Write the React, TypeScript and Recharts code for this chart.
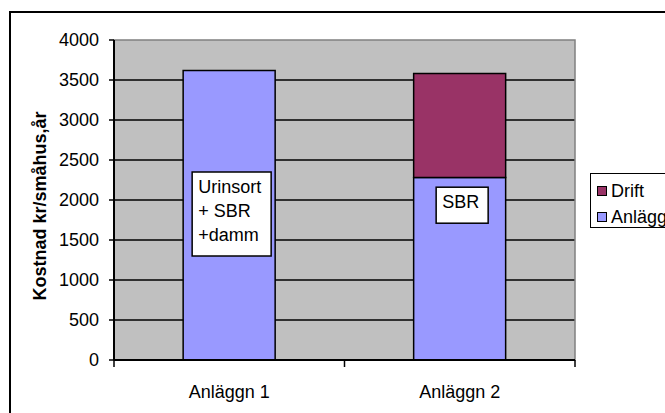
import React from 'react'
import { BarChart, Bar, XAxis, YAxis, CartesianGrid, LabelList, ReferenceArea } from 'recharts'

const categories = ['Anläggn 1', 'Anläggn 2']
const anlaggn = [3620, 2280]
const drift = [null, 1300]
const yTicks = [0, 500, 1000, 1500, 2000, 2500, 3000, 3500, 4000]
const notes = [['Urinsort', '+ SBR', '+damm'], ['SBR']]
const noteTop = [2350, 2160]

const series = [
  { key: 'Anläggn', values: anlaggn, color: '#9999FF' },
  { key: 'Drift', values: drift, color: '#993366' },
]

const W = 665, H = 413
const M = { top: 40, right: 90, left: 0, bottom: 23 }
const Y_W = 114, X_H = 30
const BAND = (W - M.left - M.right - Y_W) / categories.length
const NOTE_W = [79, 52]
const FONT = '"Liberation Sans", Arial, sans-serif'

const data = categories.map((c, i) => {
  const row: any = { name: c }
  for (const s of series) row[s.key] = s.values[i]
  return row
})

function XTick(p: any) {
  const { x, y, payload, index } = p
  const half = BAND / 2
  return (
    <g>
      <line x1={x - half} x2={x - half} y1={y} y2={y + 7} stroke="#000" strokeWidth={1.5} />
      {index === categories.length - 1 && (
        <line x1={x + half} x2={x + half} y1={y} y2={y + 7} stroke="#000" strokeWidth={1.5} />
      )}
      <text x={x} y={y + 38} textAnchor="middle" fontSize={18} fontFamily={FONT} fill="#000">{payload.value}</text>
    </g>
  )
}

function Note(p: any) {
  const { x, y, width, height, index } = p
  const lines = notes[index]
  if (!lines) return null
  const zero = y + height
  const top = zero - noteTop[index] * (height / anlaggn[index])
  const w = NOTE_W[index]
  const h = lines.length * 24 + 12
  const left = x + width / 2 + 2.5 - w / 2
  return (
    <g>
      <rect x={left} y={top} width={w} height={h} fill="#fff" stroke="#000" strokeWidth={1.5} />
      {lines.map((l, i) => (
        <text key={i} x={left + 6} y={top + 21 + i * 24} fontSize={18} fontFamily={FONT} fill="#000">{l}</text>
      ))}
    </g>
  )
}

export default function App() {
  return (
    <div style={{ position: 'fixed', left: 0, top: 0, width: W, height: H, overflow: 'hidden', background: '#fff', fontFamily: FONT }}>
      <div style={{ position: 'absolute', left: 9, top: 11, width: 720, height: 480, border: '2px solid #000', boxSizing: 'border-box' }} />
      <BarChart width={W} height={H} data={data} margin={M} barCategoryGap="30%">
        <CartesianGrid vertical={false} fill="#C0C0C0" stroke="#000" strokeWidth={1.5}
          horizontalValues={yTicks.filter(v => v > 0 && v < 4000)} />
        <ReferenceArea y1={0} y2={4000} fill="none" stroke="#808080" strokeWidth={1.5} ifOverflow="extendDomain" />
        <XAxis dataKey="name" height={X_H} tickLine={false} tickSize={0} tickMargin={0} tick={<XTick />}
          axisLine={{ stroke: '#000', strokeWidth: 2 }} interval={0} />
        <YAxis width={Y_W} domain={[0, 4000]} ticks={yTicks} tickSize={5} tickMargin={10}
          tick={{ fill: '#000', fontSize: 18, fontFamily: FONT }}
          tickLine={{ stroke: '#000', strokeWidth: 1.5 }} axisLine={{ stroke: '#000', strokeWidth: 2 }}
          label={{
            content: () => (
              <text x={46} y={206} transform="rotate(-90, 46, 206)" textAnchor="middle" fontSize={18}
                fontWeight="bold" fontFamily={FONT} fill="#000">Kostnad kr/småhus,år</text>
            ),
          }} />
        {series.map(s => (
          <Bar key={s.key} dataKey={s.key} stackId="a" fill={s.color} stroke="#000" strokeWidth={1.5} isAnimationActive={false}>
            {s.key === 'Anläggn' && <LabelList dataKey={s.key} content={<Note />} />}
          </Bar>
        ))}
      </BarChart>
      <div style={{ position: 'absolute', left: 590, top: 173, width: 120, height: 55, border: '1.5px solid #000', boxSizing: 'border-box', background: '#fff' }}>
        {series.slice().reverse().map((s, i) => (
          <div key={s.key} style={{ position: 'absolute', left: 6, top: 6 + i * 26, height: 22, display: 'flex', alignItems: 'center', fontSize: 18, whiteSpace: 'nowrap' }}>
            <span style={{ display: 'inline-block', width: 8, height: 8, background: s.color, border: '1.5px solid #000', marginRight: 4 }} />
            {s.key}
          </div>
        ))}
      </div>
    </div>
  )
}
